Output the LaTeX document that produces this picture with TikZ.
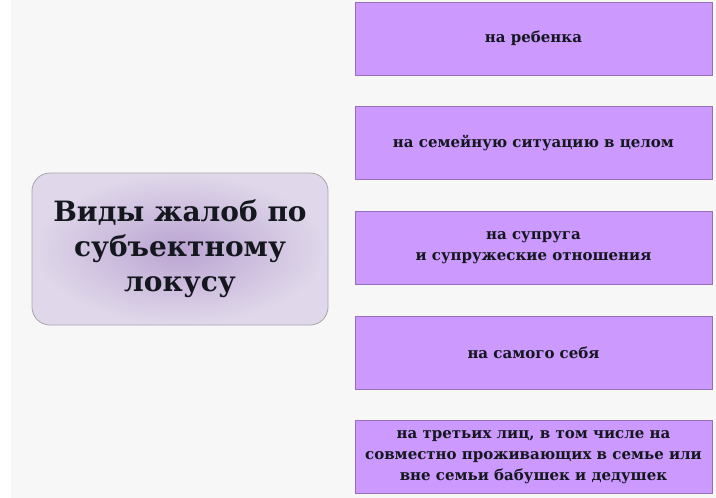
\documentclass[tikz,border=0pt]{standalone}
\usepackage{fontspec}
\setmainfont{DejaVu Serif}
\usetikzlibrary{positioning}
\definecolor{bgpaper}{RGB}{247,247,247}
\definecolor{boxviolet}{RGB}{204,153,255}
\definecolor{boxedge}{RGB}{150,110,185}
\definecolor{lilaclight}{RGB}{224,216,234}
\definecolor{lilacdark}{RGB}{186,164,210}
\definecolor{textdark}{RGB}{20,24,30}
\tikzset
{
	locusnode/.style = {rounded corners=18pt, draw=black!35, line width=0.8pt, inner color=lilacdark, outer color=lilaclight, minimum width=296pt, minimum height=152pt, align=center, text=textdark, font=\fontsize{28}{35}\selectfont\bfseries},
	kindnode/.style  = {draw=boxedge, line width=0.6pt, fill=boxviolet, minimum width=357pt, minimum height=73pt, inner xsep=2pt, align=center, text=textdark, font=\fontsize{15}{21}\selectfont\bfseries}
}

\begin{document}
\begin{tikzpicture}[x=1pt, y=-1pt]
\useasboundingbox (0,0) rectangle (716,498);
\fill[bgpaper] (11,0) rectangle (716,498);
% main box
\node[locusnode] (locus) at (180,249) {Виды жалоб по\\ субъектному\\ локусу};
% kinds of complaints
\node[kindnode] (child) at (533.5,38.5) {на ребенка};
\node[kindnode, below=31pt of child] (family) {на семейную ситуацию в целом};
\node[kindnode, below=31pt of family] (spouse) {на супруга\\ и супружеские отношения};
\node[kindnode, below=31pt of spouse] (self) {на самого себя};
\node[kindnode, below=31pt of self] (others) {на третьих лиц, в том числе на\\ совместно проживающих в семье или\\ вне семьи бабушек и дедушек};
\end{tikzpicture}
\end{document}
